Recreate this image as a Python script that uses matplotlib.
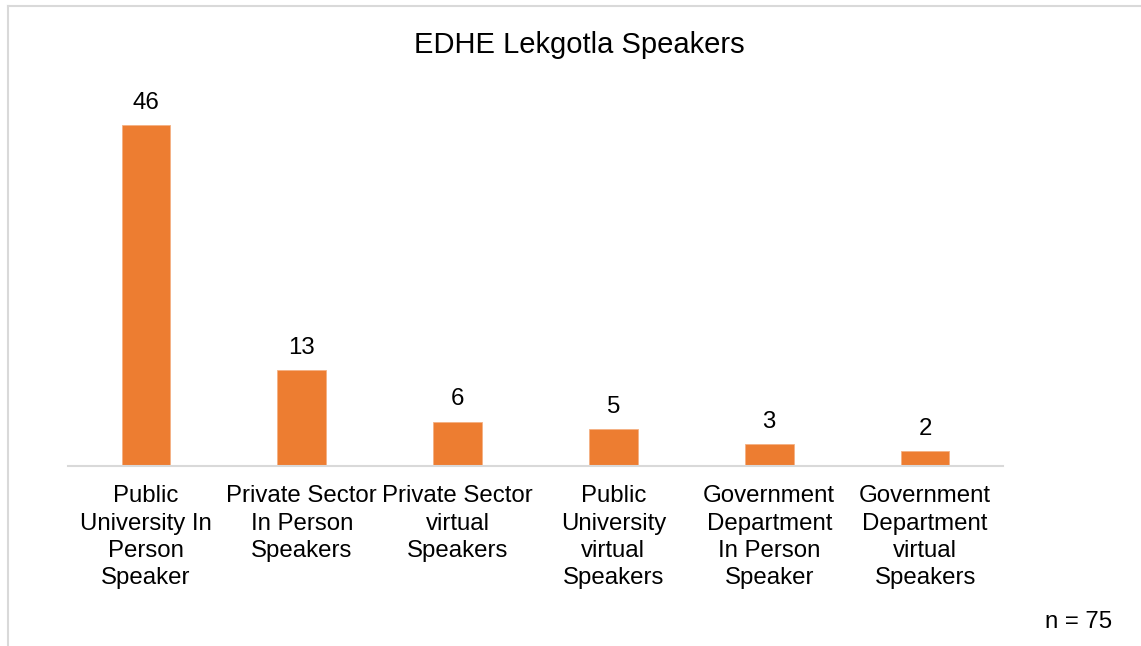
import matplotlib.pyplot as plt
from matplotlib.lines import Line2D

plt.rcParams['font.family'] = ['Liberation Sans', 'DejaVu Sans']

categories = [
    "Public\nUniversity In\nPerson\nSpeaker",
    "Private Sector\nIn Person\nSpeakers",
    "Private Sector\nvirtual\nSpeakers",
    "Public\nUniversity\nvirtual\nSpeakers",
    "Government\nDepartment\nIn Person\nSpeaker",
    "Government\nDepartment\nvirtual\nSpeakers",
]
speakers = [46, 13, 6, 5, 3, 2]
title = "EDHE Lekgotla Speakers"
note = "n = 75"

W, H = 1141, 646
fig = plt.figure(figsize=(W / 100, H / 100), dpi=100)

# axes placed in pixel terms: left 68, right 1003, baseline 466
left, right, bottom = 68, 1003, 466
ymax = 50
top = bottom - ymax * 341 / 46
ax = fig.add_axes([left / W, 1 - bottom / H, (right - left) / W, (bottom - top) / H])

x = range(len(categories))
bars = ax.bar(x, speakers, width=0.3125, color="#ED7D31", edgecolor="#F4B183", linewidth=0.6)
ax.bar_label(bars, labels=[str(v) for v in speakers], padding=8, fontsize=17.3)

ax.set_xlim(-0.5, len(categories) - 0.5)
ax.set_ylim(0, ymax)
ax.set_xticks(list(x))
ax.set_xticklabels(categories, fontsize=17.3, linespacing=1.3)
ax.tick_params(axis="x", length=0, pad=14)
ax.set_yticks([])
for s in ["top", "right", "left"]:
    ax.spines[s].set_visible(False)
ax.spines["bottom"].set_color("#D9D9D9")
ax.spines["bottom"].set_linewidth(1.5)

fig.text(579.5 / W, 1 - 45 / H, title, ha="center", va="center", fontsize=21)
fig.text(1112 / W, 1 - 622 / H, note, ha="right", va="center", fontsize=17.3)

# chart frame (top and left edges visible)
fig.add_artist(Line2D([8 / W, 1], [1 - 6 / H, 1 - 6 / H], color="#D9D9D9", linewidth=1.5))
fig.add_artist(Line2D([8 / W, 8 / W], [0, 1 - 6 / H], color="#D9D9D9", linewidth=1.5))

fig.savefig("out.png", dpi=100)
